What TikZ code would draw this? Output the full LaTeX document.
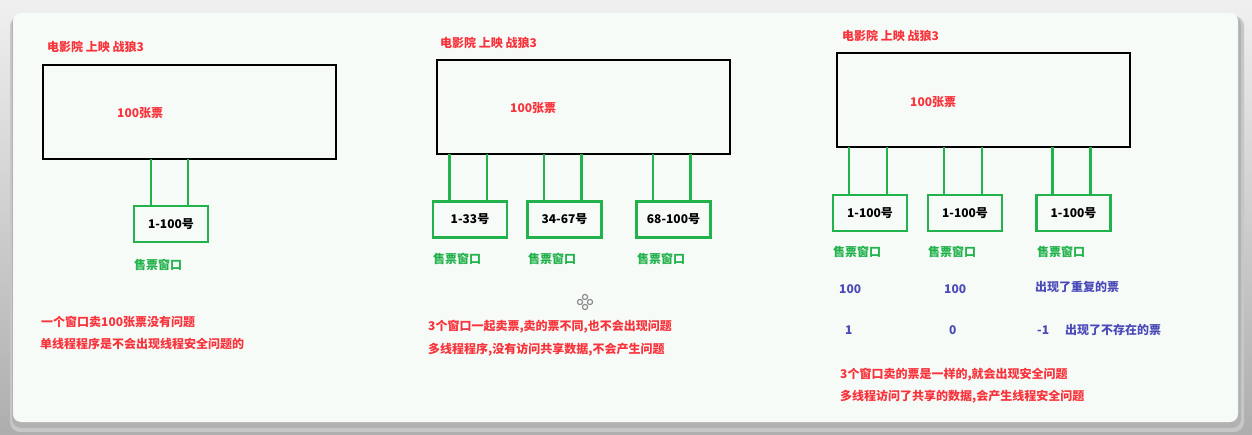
\documentclass[tikz,border=0pt]{standalone}
\usepackage{fontspec}
\setmainfont{Noto Sans CJK SC}
\usetikzlibrary{calc}
\definecolor{tred}{HTML}{F8333B}
\definecolor{tgreen}{HTML}{22B24C}
\definecolor{tblue}{HTML}{4B4BB8}
\definecolor{panelbg}{HTML}{F7FBF8}
\tikzset{
  bigbox/.style={draw=black, line width=2.4pt, minimum width=293pt, minimum height=94pt, inner sep=0, outer sep=0},
  winbox/.style={draw=tgreen, line width=2.4pt, minimum width=74pt, minimum height=36pt, inner sep=0, outer sep=0, font=\fontsize{12pt}{14pt}\selectfont\bfseries, text=black},
  gline/.style={draw=tgreen, line width=2.4pt},
  txt/.style={anchor=west, inner sep=0, font=\fontsize{12pt}{14pt}\selectfont\bfseries},
  redt/.style={txt, text=tred},
  greent/.style={txt, text=tgreen},
  bluet/.style={txt, text=tblue},
}
\begin{document}
\begin{tikzpicture}[x=1pt, y=-1pt]
\useasboundingbox (0,0) rectangle (1252,435);
% backdrop
\shade[top color=black!6, bottom color=black!32] (0,0) rectangle (1252,435);
\fill[black!22, rounded corners=10pt] (10,16) rectangle (1244,432);
\fill[black!30, rounded corners=9pt] (12,16) rectangle (1241,428);
\fill[panelbg, rounded corners=8pt] (13,13) rectangle (1238,422);

% ---------- panel 1 ----------
\node[redt] (t1) at (47,47) {电影院 上映 战狼3};
\node[bigbox] (r1) at (189.5,112) {};
\node[redt] (n1) at (117,113) {100张票};
\node[winbox] (w11) at (171,224) {1-100号};
\draw[gline] ([xshift=17pt]w11.north west) -- ([xshift=17pt]w11.north west |- r1.south);
\draw[gline] ([xshift=54pt]w11.north west) -- ([xshift=54pt]w11.north west |- r1.south);
\node[greent] (s11) at (134,265) {售票窗口};
\node[redt] (a1) at (41,322) {一个窗口卖100张票没有问题};
\node[redt] (b1) at (40,344) {单线程程序是不会出现线程安全问题的};

% ---------- panel 2 ----------
\node[redt] (t2) at (440,43) {电影院 上映 战狼3};
\node[bigbox] (r2) at (583.5,107) {};
\node[redt] (n2) at (510,108) {100张票};
\node[winbox] (w21) at (470,219.5) {1-33号};
\node[winbox] (w22) at (564.5,219.5) {34-67号};
\node[winbox] (w23) at (673.5,219.5) {68-100号};
\foreach \w in {w21,w22,w23}{
  \draw[gline] ([xshift=16.5pt]\w.north west) -- ([xshift=16.5pt]\w.north west |- r2.south);
  \draw[gline] ([xshift=54pt]\w.north west) -- ([xshift=54pt]\w.north west |- r2.south);
}
\node[greent] (s21) at (433,259) {售票窗口};
\node[greent] (s22) at (528,259) {售票窗口};
\node[greent] (s23) at (637,259) {售票窗口};
\node (cur) at (585,302) {};
\foreach \dx/\dy in {-5/0,5/0,0/-5,0/5}{
  \draw[black!45, line width=1.2pt] ($(cur.center)+(\dx,\dy)$) circle (2.6pt);
}
\node[redt] (a2) at (428,327) {3个窗口一起卖票,卖的票不同,也不会出现问题};
\node[redt] (b2) at (428,350) {多线程程序,没有访问共享数据,不会产生问题};

% ---------- panel 3 ----------
\node[redt] (t3) at (842,36) {电影院 上映 战狼3};
\node[bigbox] (r3) at (983.5,100) {};
\node[redt] (n3) at (910,102) {100张票};
\node[winbox] (w31) at (870,213) {1-100号};
\node[winbox] (w32) at (965,213) {1-100号};
\node[winbox] (w33) at (1073.5,213) {1-100号};
\foreach \w in {w31,w32,w33}{
  \draw[gline] ([xshift=16pt]\w.north west) -- ([xshift=16pt]\w.north west |- r3.south);
  \draw[gline] ([xshift=54pt]\w.north west) -- ([xshift=54pt]\w.north west |- r3.south);
}
\node[greent] (s31) at (833,252) {售票窗口};
\node[greent] (s32) at (928,252) {售票窗口};
\node[greent] (s33) at (1037,252) {售票窗口};
\node[bluet] (c1) at (839,289) {100};
\node[bluet] (c2) at (944,289) {100};
\node[bluet] (c3) at (1035,287) {出现了重复的票};
\node[bluet] (d1) at (845,330) {1};
\node[bluet] (d2) at (949,330) {0};
\node[bluet] (d3) at (1037,330) {-1};
\node[bluet] (d4) at (1065,330) {出现了不存在的票};
\node[redt] (a3) at (840,375) {3个窗口卖的票是一样的,就会出现安全问题};
\node[redt] (b3) at (840,397) {多线程访问了共享的数据,会产生线程安全问题};
\end{tikzpicture}
\end{document}
